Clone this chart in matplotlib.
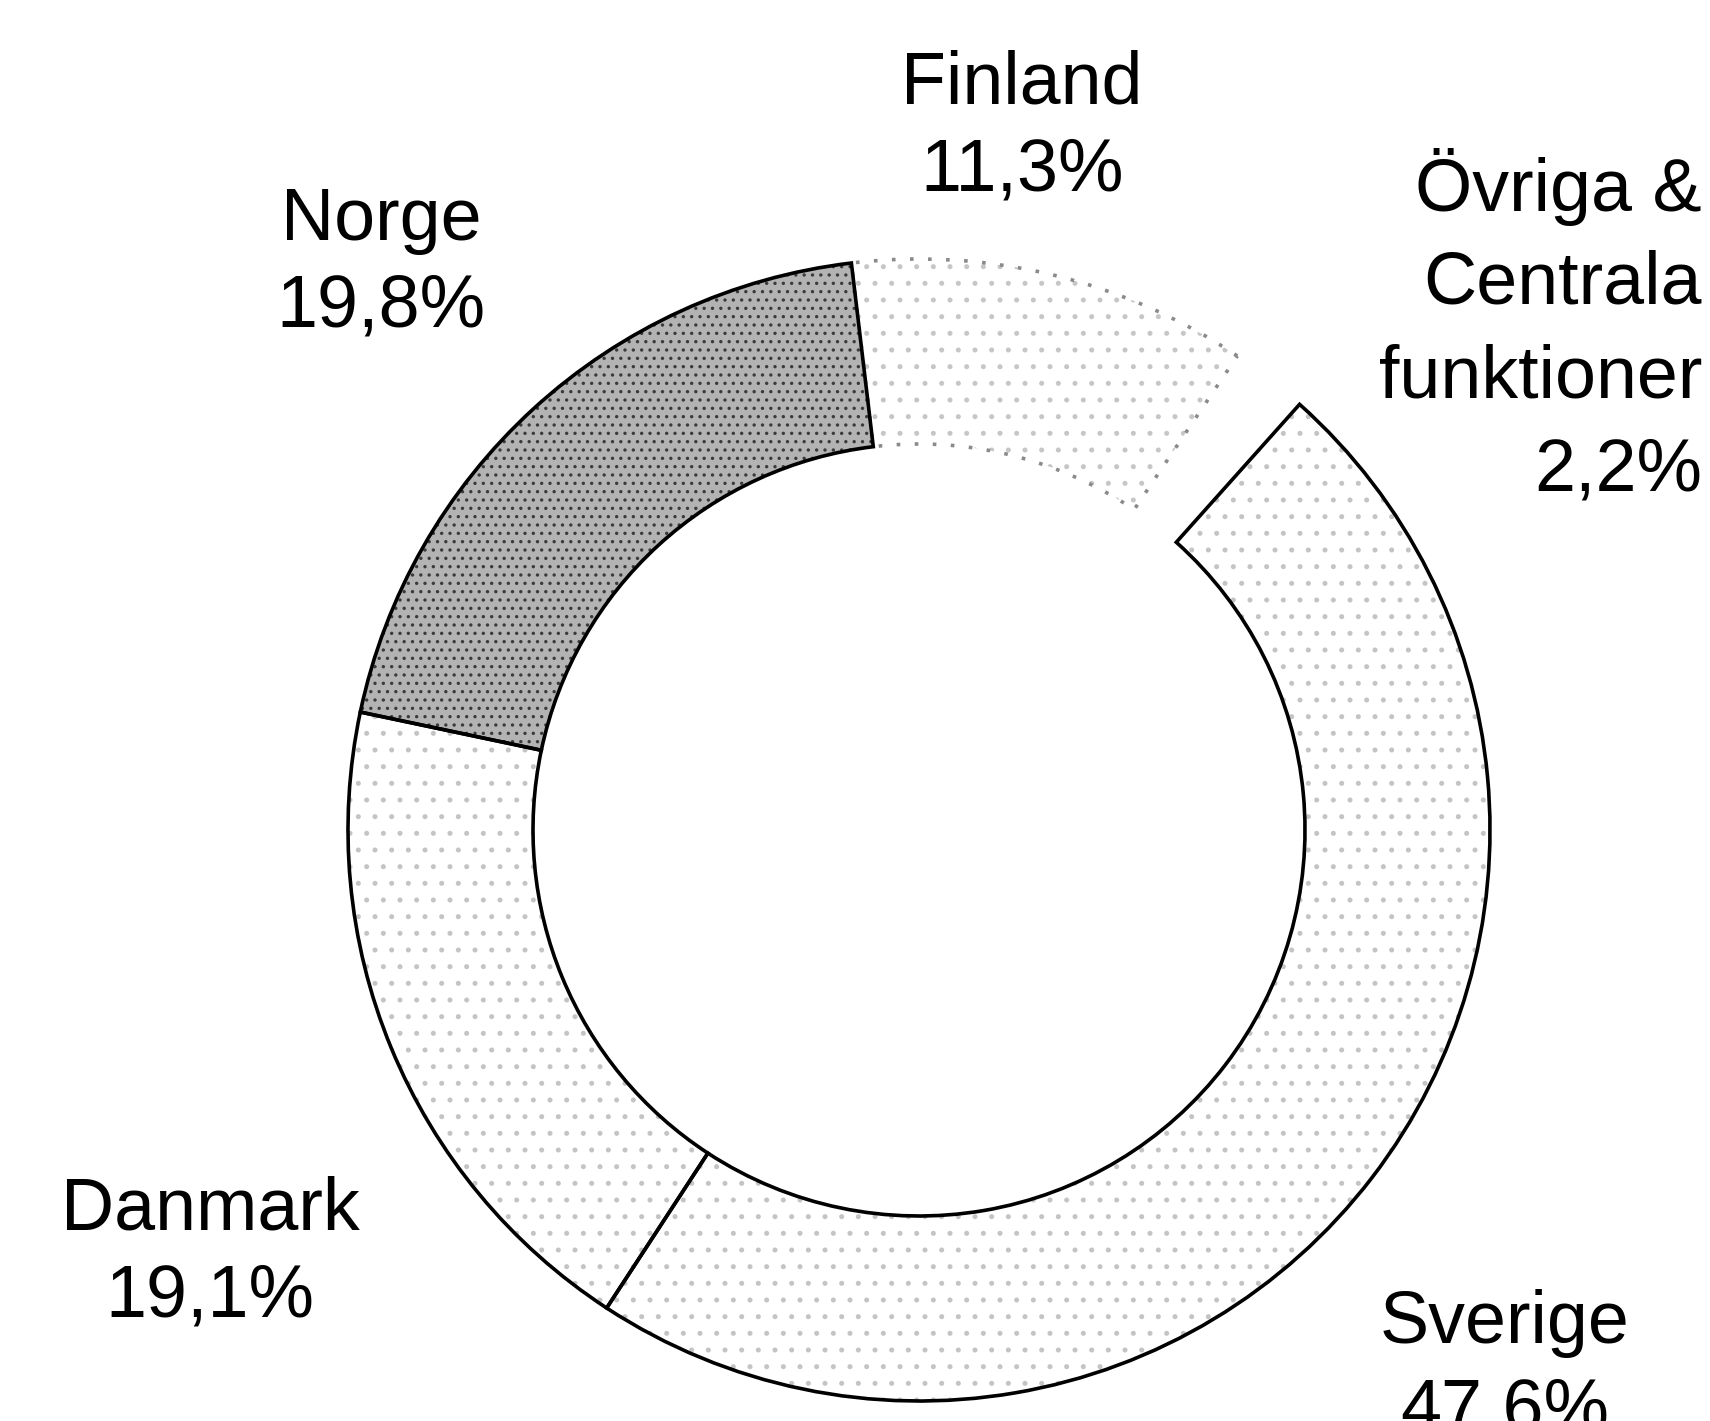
import matplotlib.pyplot as plt

regions = ["Finland", "Övriga &\nCentrala\nfunktioner", "Sverige", "Danmark", "Norge"]
shares = [11.3, 2.2, 47.6, 19.1, 19.8]

# styling per segment (Övriga is left as an empty gap in the ring)
face_colors = ["white", "none", "white", "white", "#b3b3b3"]
hatch_colors = ["#c6c6c6", "none", "#c4c4c4", "#c4c4c4", "#3a3a3a"]
hatches = [".", None, ".", ".", ".."]
edge_colors = ["#8a8a8a", "none", "black", "black", "black"]
edge_styles = [(0, (1, 4)), "solid", "solid", "solid", "solid"]

# label anchor: x, baseline of first line (pixels from top), alignment, line step
label_pos = [
    (1022, 103, "center", 87),
    (1702, 211, "right", 93),
    (1505, 1343, "center", 87),
    (210, 1230, "center", 87),
    (381, 240, "center", 87),
]

W, H = 1710, 1421
CX, CY, R = 919, 830, 571
RING = 0.324
START = 96.8

plt.rcParams["font.family"] = ["Liberation Sans", "DejaVu Sans"]
plt.rcParams["hatch.linewidth"] = 1.2

fig = plt.figure(figsize=(W / 100, H / 100), dpi=100)
ax = fig.add_axes([0, 0, 1, 1])

fill, _ = ax.pie(
    shares,
    startangle=START,
    counterclock=False,
    radius=R,
    center=(CX, H - CY),
    wedgeprops=dict(width=RING * R, linewidth=0),
)
for w, fc, hc, h in zip(fill, face_colors, hatch_colors, hatches):
    w.set_facecolor(fc)
    w.set_edgecolor(hc)
    w.set_hatch(h)

outline, _ = ax.pie(
    shares,
    startangle=START,
    counterclock=False,
    radius=R,
    center=(CX, H - CY),
    wedgeprops=dict(width=RING * R, fill=False, linewidth=2.6),
)
for w, ec, ls in zip(outline, edge_colors, edge_styles):
    w.set_edgecolor(ec)
    w.set_linestyle(ls)

for name, v, (x, y, ha, step) in zip(regions, shares, label_pos):
    lines = name.split("\n") + ["{:.1f}%".format(v).replace(".", ",")]
    for i, line in enumerate(lines):
        ax.text(x, H - (y + i * step), line, ha=ha, va="baseline",
                fontsize=53, color="black")

ax.set_xlim(0, W)
ax.set_ylim(0, H)
ax.set_aspect("auto")
ax.axis("off")

fig.savefig("out.png", dpi=100, facecolor="white")
